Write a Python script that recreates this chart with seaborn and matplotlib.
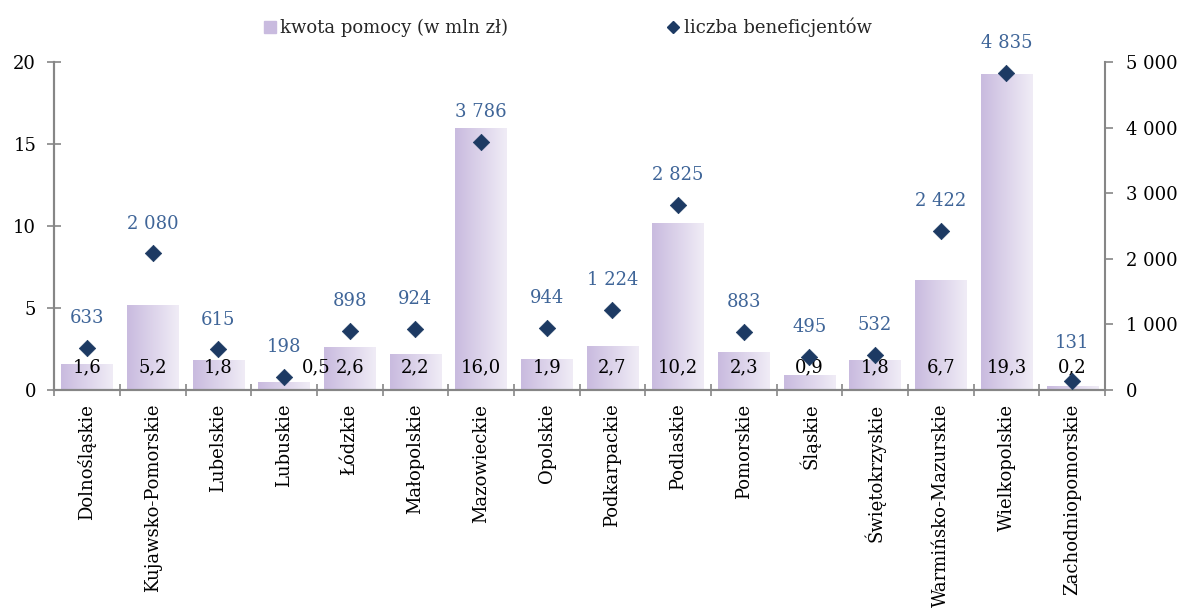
import matplotlib
import matplotlib.pyplot as plt
import numpy as np
import pandas as pd
import seaborn as sns
from matplotlib.colors import LinearSegmentedColormap
from matplotlib.lines import Line2D
from matplotlib.ticker import FixedLocator, FuncFormatter

matplotlib.use("Agg")

regions = [
    "Dolnośląskie", "Kujawsko-Pomorskie", "Lubelskie", "Lubuskie", "Łódzkie",
    "Małopolskie", "Mazowieckie", "Opolskie", "Podkarpackie", "Podlaskie",
    "Pomorskie", "Śląskie", "Świętokrzyskie", "Warmińsko-Mazurskie",
    "Wielkopolskie", "Zachodniopomorskie",
]
aid_amount = [1.6, 5.2, 1.8, 0.5, 2.6, 2.2, 16.0, 1.9, 2.7, 10.2, 2.3, 0.9, 1.8, 6.7, 19.3, 0.2]
beneficiaries = [633, 2080, 615, 198, 898, 924, 3786, 944, 1224, 2825, 883, 495, 532, 2422, 4835, 131]

AXIS_GRAY = "#868686"
BAR_LEFT = "#c9bbdf"
BAR_RIGHT = "#f0ecf6"
DIAMOND = "#1d3a63"
LABEL_BLUE = "#3f6598"
FONT = "DejaVu Serif"
FS = 13


def thousands(v, _pos=None):
    return f"{int(v):,}".replace(",", " ")


def main() -> None:
    sns.set_theme(style="white")
    plt.rcParams["font.family"] = [FONT]

    df = pd.DataFrame({"region": regions, "amount": aid_amount, "count": beneficiaries})
    pos = np.arange(len(df))

    fig = plt.figure(figsize=(11.78, 6.09), dpi=100)
    ax = fig.add_axes([0.046, 0.36, 0.892, 0.538])

    sns.barplot(data=df, x="region", y="amount", color=BAR_LEFT, width=0.78,
                edgecolor="white", linewidth=1.2, saturation=1, ax=ax)

    # horizontal gradient fill inside each bar
    cmap = LinearSegmentedColormap.from_list("bar", [BAR_LEFT, BAR_RIGHT])
    grad = np.linspace(0, 1, 64).reshape(1, -1)
    for patch in list(ax.patches):
        x0, y0 = patch.get_x(), patch.get_y()
        x1, y1 = x0 + patch.get_width(), y0 + patch.get_height()
        im = ax.imshow(grad, cmap=cmap, aspect="auto", extent=(x0, x1, y0, y1),
                       zorder=patch.get_zorder() + 0.1, interpolation="bilinear")
        im.set_clip_path(patch)

    ax.set_xlim(-0.5, len(df) - 0.5)
    ax.set_ylim(0, 20)
    ax.set_yticks([0, 5, 10, 15, 20])
    ax.set_xlabel("")
    ax.set_ylabel("")

    for i, v in enumerate(aid_amount):
        dx = 23 if regions[i] == "Lubuskie" else 0
        ax.annotate(f"{v:.1f}".replace(".", ","), xy=(i, 0), xytext=(dx, 16),
                    textcoords="offset points", ha="center", va="center",
                    fontsize=FS, color="black", zorder=5)

    ax2 = ax.twinx()
    sns.scatterplot(x=pos, y=df["count"], marker="D", s=70, color=DIAMOND,
                    edgecolor=DIAMOND, linewidth=0.5, ax=ax2, zorder=6)
    ax2.set_ylim(0, 5000)
    ax2.set_yticks(range(0, 5001, 1000))
    ax2.yaxis.set_major_formatter(FuncFormatter(thousands))
    ax2.set_ylabel("")
    for i, v in enumerate(beneficiaries):
        dy = 21 if regions[i] == "Zachodniopomorskie" else 15
        ax2.annotate(thousands(v), xy=(i, v), xytext=(0, dy), textcoords="offset points",
                     ha="center", va="bottom", fontsize=FS, color=LABEL_BLUE)

    ax.set_xticks(pos)
    ax.set_xticklabels(regions, rotation=90, fontsize=FS)
    ax.xaxis.set_minor_locator(FixedLocator(np.arange(-0.5, len(df), 1.0)))
    ax.tick_params(axis="x", which="major", length=0, pad=10, colors="black")
    ax.tick_params(axis="x", which="minor", direction="inout", length=9, width=1.2,
                   color=AXIS_GRAY, bottom=True)
    ax.tick_params(axis="y", direction="inout", length=10, width=1.2, color=AXIS_GRAY,
                   labelsize=FS, labelcolor="black", left=True, pad=8)
    ax2.tick_params(axis="y", direction="out", length=6, width=1.2, color=AXIS_GRAY,
                    labelsize=FS, labelcolor="black", right=True, pad=9)

    for a in (ax, ax2):
        a.spines["top"].set_visible(False)
        for side in ("left", "right", "bottom"):
            a.spines[side].set_color(AXIS_GRAY)
            a.spines[side].set_linewidth(1.5)
        a.grid(False)
    ax.spines["right"].set_visible(False)

    handles = [
        Line2D([], [], marker="s", linestyle="", markersize=9, color=BAR_LEFT),
        Line2D([], [], marker="D", linestyle="", markersize=6, color=DIAMOND),
    ]
    fig.legend(handles, ["kwota pomocy (w mln zł)", "liczba beneficjentów"],
               loc="center", bbox_to_anchor=(0.482, 0.955), ncol=2, frameon=False,
               fontsize=FS, handlelength=0.6, handletextpad=0.3, columnspacing=8.8)

    fig.savefig("out.png", dpi=100)
    plt.close(fig)


if __name__ == "__main__":
    main()
